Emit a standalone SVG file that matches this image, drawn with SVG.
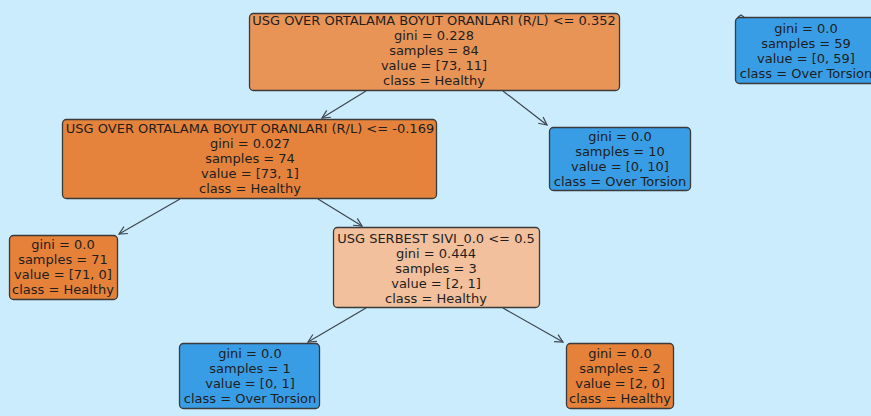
<svg xmlns="http://www.w3.org/2000/svg" width="871" height="416" viewBox="0 0 871 416">
<style>
.bg{fill:#cbecfd}
.n{stroke:#3a3a3a;stroke-width:1.3}
.o{fill:#e58139}.b{fill:#399de5}
text{font-family:"DejaVu Sans",sans-serif;font-size:13px;fill:#1e1e1e;text-anchor:middle}
.e{stroke:#3d4650;stroke-width:1.2;fill:none;marker-end:url(#ah)}
</style>
<defs>
<marker id="ah" viewBox="0 0 10 10" refX="9" refY="5" markerWidth="10" markerHeight="10" markerUnits="userSpaceOnUse" orient="auto">
<path d="M1,1 L9,5 L1,9" fill="none" stroke="#3d4650" stroke-width="1.2"/>
</marker>
</defs>
<rect class="bg" width="871" height="416"/>
<g id="connectors">
<line class="e" x1="366" y1="91" x2="322" y2="118"/>
<line class="e" x1="503" y1="91" x2="547" y2="125"/>
<line class="e" x1="180" y1="199" x2="119" y2="234"/>
<line class="e" x1="318" y1="199" x2="362" y2="226"/>
<line class="e" x1="366" y1="308" x2="308" y2="342"/>
<line class="e" x1="503" y1="308" x2="563" y2="342"/>
<path d="M738,17 L741,15 L744,17" fill="none" stroke="#3d4650" stroke-width="1.2"/>
</g>
<g id="root">
<rect class="n" x="249.5" y="13.5" width="370" height="77" rx="4" fill="#e99457"/>
<text x="434" y="25">USG OVER ORTALAMA BOYUT ORANLARI (R/L) &lt;= 0.352</text>
<text x="434" y="40">gini = 0.228</text>
<text x="434" y="55">samples = 84</text>
<text x="434" y="70">value = [73, 11]</text>
<text x="434" y="85">class = Healthy</text>
</g>
<g id="leaf59">
<rect class="n b" x="735.5" y="17.5" width="142" height="66" rx="4"/>
<text x="806" y="33">gini = 0.0</text>
<text x="806" y="48">samples = 59</text>
<text x="806" y="63">value = [0, 59]</text>
<text x="806" y="78">class = Over Torsion</text>
</g>
<g id="node74">
<rect class="n" x="62.5" y="119.5" width="374" height="79" rx="4" fill="#e5833c"/>
<text x="250" y="133">USG OVER ORTALAMA BOYUT ORANLARI (R/L) &lt;= -0.169</text>
<text x="250" y="148">gini = 0.027</text>
<text x="250" y="163">samples = 74</text>
<text x="250" y="178">value = [73, 1]</text>
<text x="250" y="193">class = Healthy</text>
</g>
<g id="leaf10">
<rect class="n b" x="549.5" y="127.5" width="141" height="63" rx="4"/>
<text x="620" y="141">gini = 0.0</text>
<text x="620" y="156">samples = 10</text>
<text x="620" y="171">value = [0, 10]</text>
<text x="620" y="186">class = Over Torsion</text>
</g>
<g id="leaf71">
<rect class="n o" x="9.5" y="235.5" width="108" height="64" rx="4"/>
<text x="63" y="249">gini = 0.0</text>
<text x="63" y="264">samples = 71</text>
<text x="63" y="279">value = [71, 0]</text>
<text x="63" y="294">class = Healthy</text>
</g>
<g id="node3">
<rect class="n" x="333.5" y="227.5" width="206" height="80" rx="4" fill="#f2c09c"/>
<text x="436" y="243">USG SERBEST SIVI_0.0 &lt;= 0.5</text>
<text x="436" y="258">gini = 0.444</text>
<text x="436" y="273">samples = 3</text>
<text x="436" y="288">value = [2, 1]</text>
<text x="436" y="303">class = Healthy</text>
</g>
<g id="leaf1">
<rect class="n b" x="179.5" y="343.5" width="140" height="65" rx="4"/>
<text x="250" y="358">gini = 0.0</text>
<text x="250" y="373">samples = 1</text>
<text x="250" y="388">value = [0, 1]</text>
<text x="250" y="403">class = Over Torsion</text>
</g>
<g id="leaf2">
<rect class="n o" x="566.5" y="343.5" width="107" height="65" rx="4"/>
<text x="620" y="358">gini = 0.0</text>
<text x="620" y="373">samples = 2</text>
<text x="620" y="388">value = [2, 0]</text>
<text x="620" y="403">class = Healthy</text>
</g>
</svg>
